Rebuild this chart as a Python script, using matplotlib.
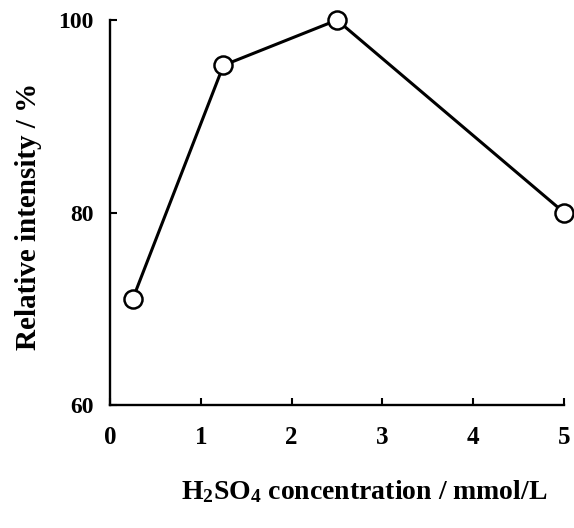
import matplotlib
matplotlib.use("Agg")
import matplotlib.pyplot as plt

# H2SO4 concentration (mmol/L) vs relative intensity (%)
conc = [0.25, 1.25, 2.5, 5.0]
intensity = [71.0, 95.3, 100.0, 80.0]
xticks = [0, 1, 2, 3, 4, 5]
yticks = [60, 80, 100]

plt.rcParams['font.family'] = ['Liberation Serif', 'DejaVu Serif']
plt.rcParams['font.weight'] = 'bold'
plt.rcParams['mathtext.fontset'] = 'custom'
plt.rcParams['mathtext.rm'] = 'Liberation Serif:bold'
plt.rcParams['mathtext.it'] = 'Liberation Serif:bold'
plt.rcParams['mathtext.bf'] = 'Liberation Serif:bold'

fig = plt.figure(figsize=(5.74, 5.28), dpi=100)
ax = fig.add_axes([0.1916, 0.233, 0.791, 0.729])

ax.plot(conc, intensity, '-o', color='black', lw=2.2,
        markersize=13, markerfacecolor='white', markeredgewidth=1.8,
        markeredgecolor='black', clip_on=False, zorder=3)

ax.set_xlim(0, 5)
ax.set_ylim(60, 100)
ax.set_xticks(xticks)
ax.set_yticks(yticks)
ax.spines['top'].set_visible(False)
ax.spines['right'].set_visible(False)
for s in ['left', 'bottom']:
    ax.spines[s].set_linewidth(1.7)
ax.tick_params(axis='both', direction='in', length=5, width=1.5)
ax.tick_params(axis='x', labelsize=18, pad=15)
ax.tick_params(axis='y', labelsize=17, pad=12)

ax.set_ylabel('Relative intensity / %', fontsize=21, fontweight='bold')
ax.yaxis.set_label_coords(-0.15, 0.49)
ax.set_xlabel(r'H$_2$SO$_4$ concentration / mmol/L', fontsize=20,
              fontweight='bold')
ax.xaxis.set_label_coords(0.56, -0.19)

fig.savefig('out.png', dpi=100)
